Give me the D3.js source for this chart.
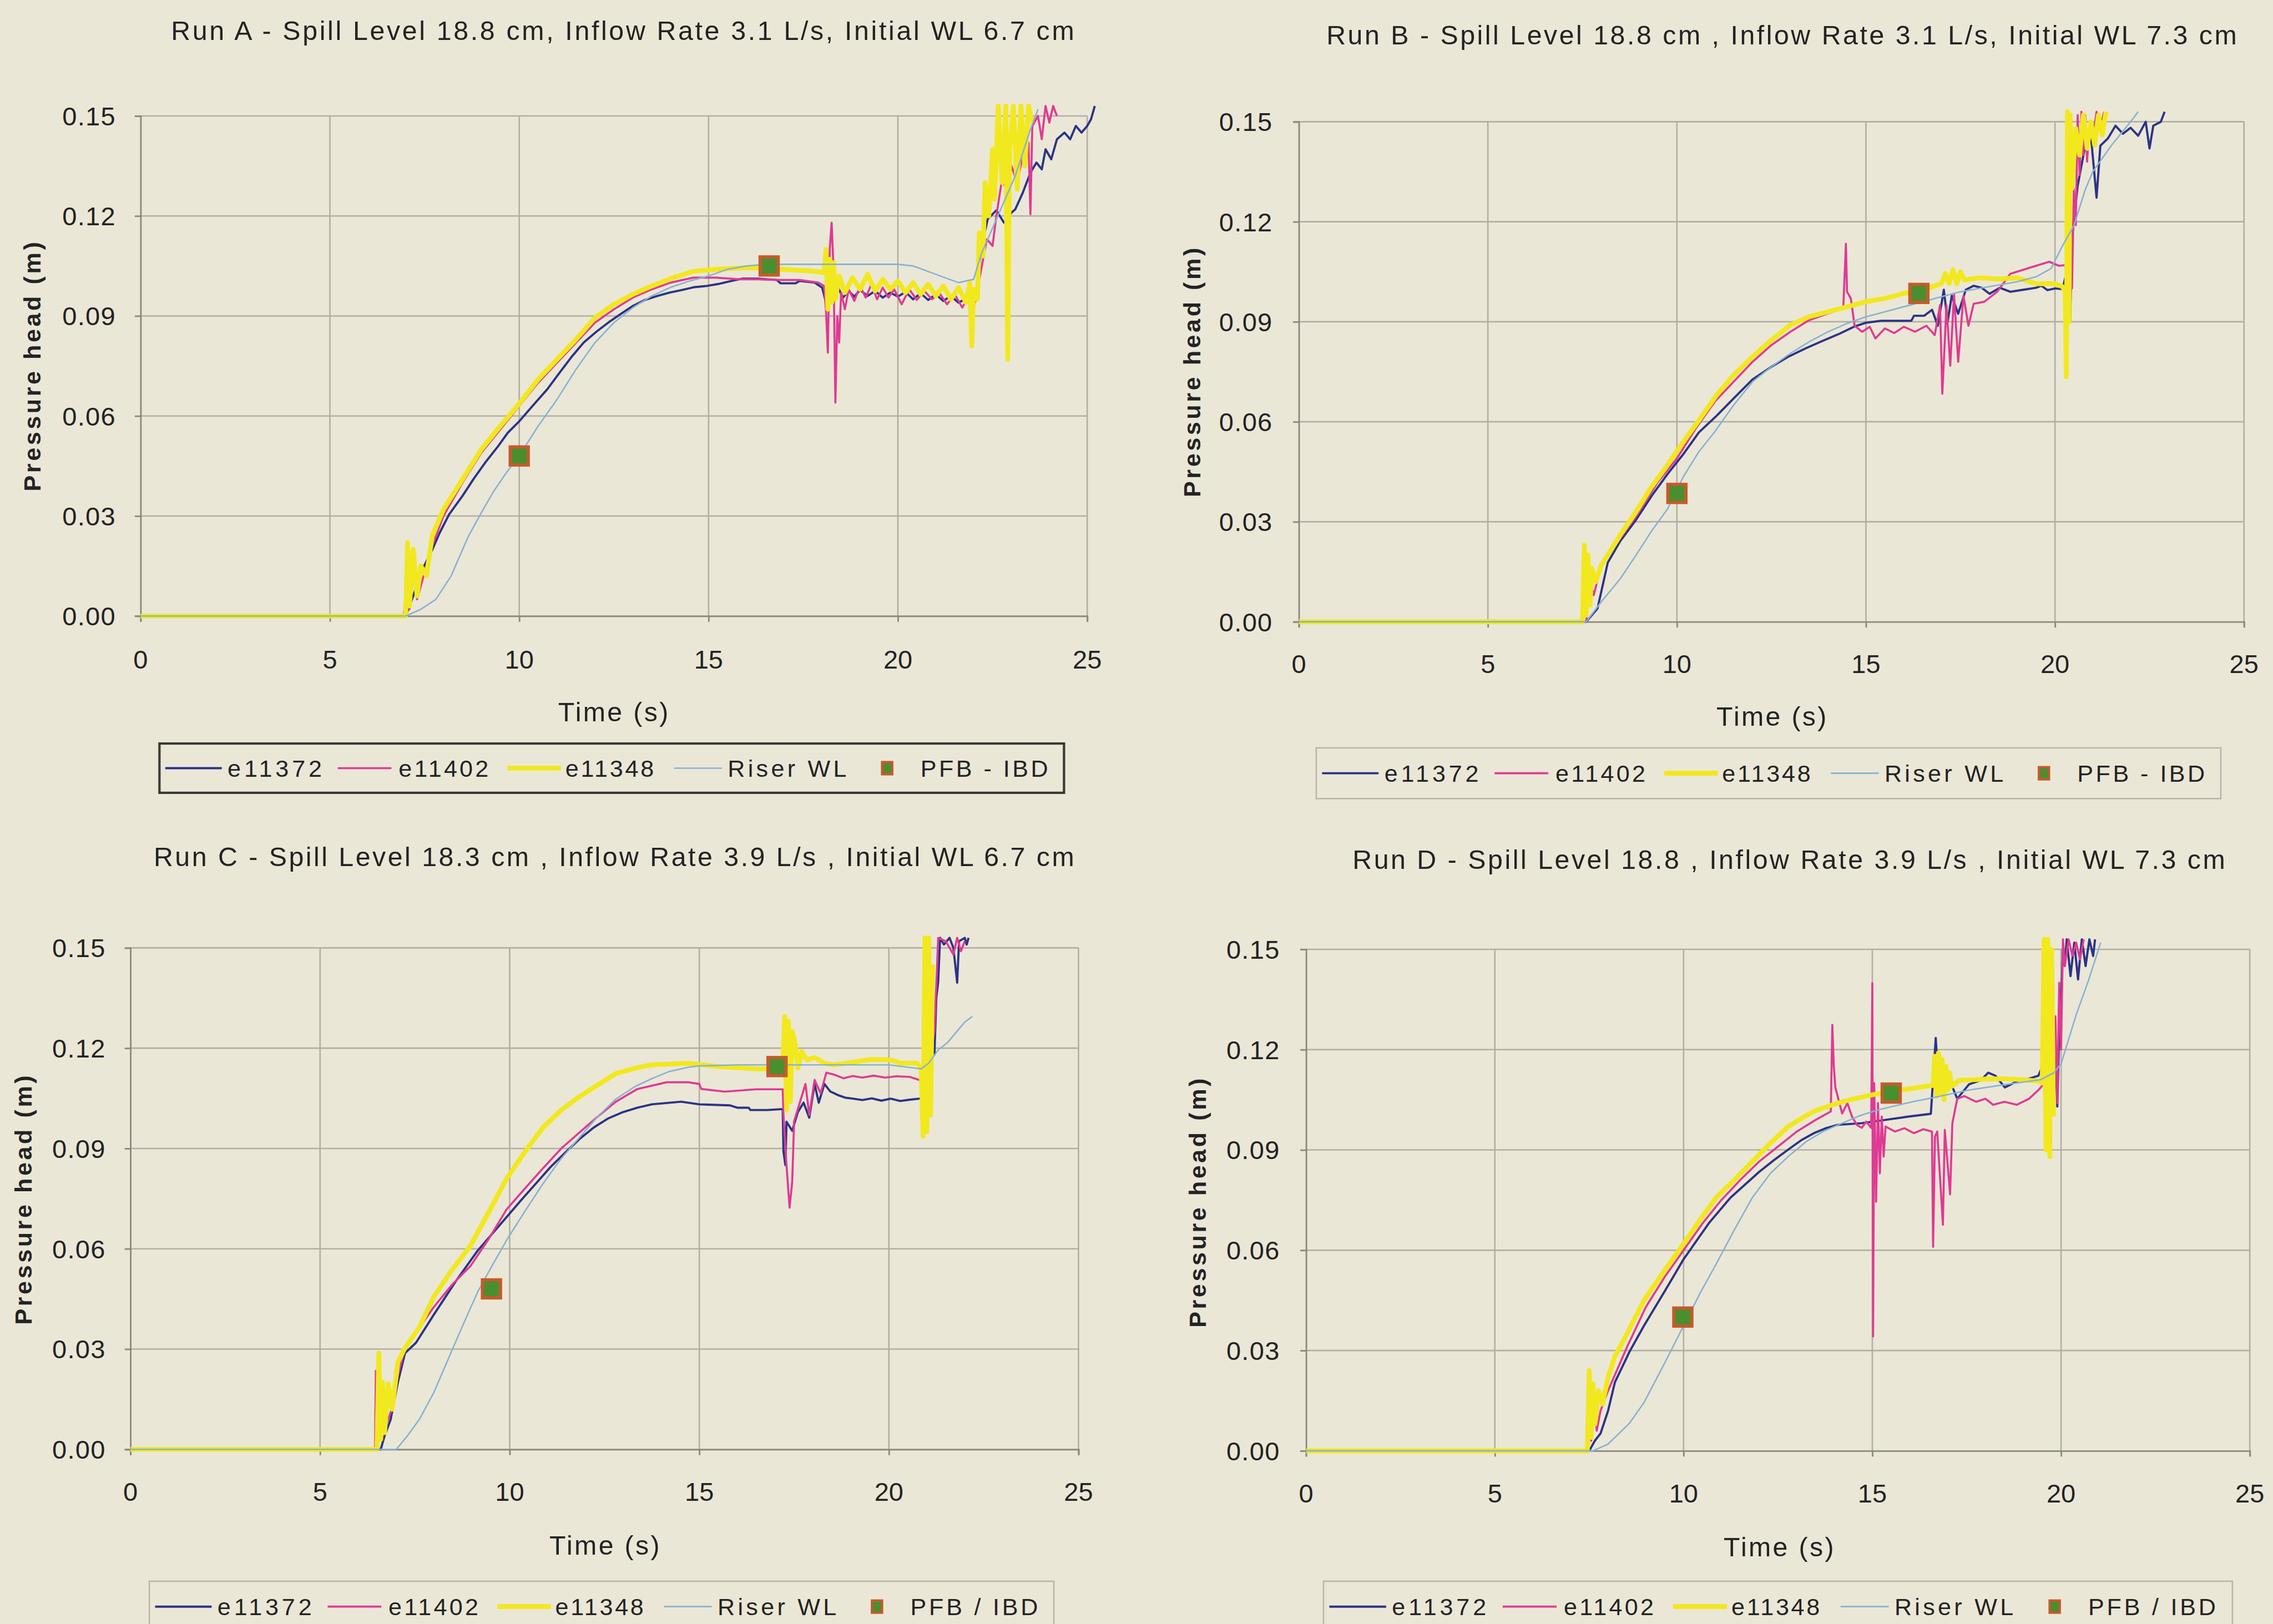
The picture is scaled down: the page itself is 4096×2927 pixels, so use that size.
<!DOCTYPE html>
<html><head><meta charset="utf-8">
<script src="https://cdn.jsdelivr.net/npm/d3@7"></script>
<style>
html,body{margin:0;padding:0;background:#ebe7d7;}
svg{display:block}
text{font-family:"Liberation Sans",Arial,sans-serif;fill:#232323}
</style></head><body>
<svg id="chart" width="4096" height="2927"></svg>
<script>
// ---------------- DATA ----------------
const xTicks = [0, 5, 10, 15, 20, 25];
const yTicks = [0, 0.03, 0.06, 0.09, 0.12, 0.15];
const seriesNames = ["e11372", "e11402", "e11348", "Riser WL"];
const titles = [
  "Run A - Spill Level 18.8 cm, Inflow Rate 3.1 L/s, Initial WL 6.7 cm",
  "Run B - Spill Level 18.8 cm , Inflow Rate 3.1 L/s, Initial WL 7.3 cm",
  "Run C - Spill Level 18.3 cm , Inflow Rate 3.9 L/s , Initial WL 6.7 cm",
  "Run D - Spill Level 18.8 , Inflow Rate 3.9 L/s , Initial WL 7.3 cm"
];
const pfbLabels = ["PFB - IBD", "PFB - IBD", "PFB / IBD", "PFB / IBD"];
const xTitle = "Time (s)";
const yTitle = "Pressure head (m)";

// Run A  [time (s), pressure head (m)]
const runA_e11372 = [[0,0],[7.0,0],[7.2,0.006],[7.4,0.013],[7.7,0.0198],[7.9,0.025],[8.15,0.0305],[8.5,0.036],[8.8,0.0412],[9.1,0.046],[9.44,0.0509],[9.7,0.055],[10.0,0.0584],[10.35,0.063],[10.74,0.068],[11.0,0.072],[11.38,0.0777],[11.7,0.082],[12.03,0.0852],[12.35,0.088],[12.67,0.0905],[13.0,0.093],[13.32,0.0948],[13.65,0.096],[13.97,0.097],[14.3,0.0978],[14.6,0.0986],[14.95,0.099],[15.26,0.0996],[15.6,0.1005],[15.9,0.1012],[16.3,0.1012],[16.8,0.1008],[16.9,0.0998],[17.3,0.0998],[17.4,0.1005],[17.8,0.1],[18.0,0.0985],[18.1,0.094],[18.2,0.1005],[18.3,0.0945],[18.4,0.099],[18.55,0.0955],[18.7,0.0975],[18.85,0.0958],[19.0,0.0978],[19.2,0.096],[19.4,0.0975],[19.6,0.0955],[19.8,0.097],[20.0,0.0958],[20.2,0.0972],[20.4,0.095],[20.6,0.0968],[20.8,0.0948],[21.0,0.0965],[21.2,0.0945],[21.4,0.096],[21.6,0.094],[21.8,0.0952],[22.0,0.093],[22.1,0.1],[22.2,0.11],[22.37,0.119],[22.6,0.1217],[22.8,0.118],[23.0,0.121],[23.1,0.122],[23.3,0.127],[23.5,0.133],[23.66,0.136],[23.8,0.134],[23.9,0.14],[24.05,0.137],[24.2,0.143],[24.4,0.145],[24.55,0.143],[24.7,0.147],[24.85,0.145],[25.0,0.147],[25.1,0.149],[25.2,0.153]];
const runA_e11402 = [[0,0],[6.95,0],[7.05,0.012],[7.1,0.002],[7.25,0.017],[7.3,0.005],[7.5,0.013],[7.7,0.021],[8.0,0.03],[8.5,0.04],[9.0,0.049],[9.5,0.056],[10.0,0.063],[10.5,0.07],[11.0,0.076],[11.5,0.082],[12.0,0.088],[12.5,0.092],[13.0,0.0955],[13.5,0.098],[14.0,0.1],[14.6,0.1015],[15.2,0.1015],[15.8,0.101],[16.3,0.101],[16.9,0.1008],[17.4,0.1008],[17.9,0.1],[18.05,0.099],[18.1,0.092],[18.15,0.079],[18.2,0.11],[18.25,0.118],[18.3,0.104],[18.35,0.064],[18.4,0.09],[18.45,0.082],[18.5,0.097],[18.6,0.092],[18.7,0.098],[18.85,0.0945],[19.0,0.099],[19.15,0.0955],[19.3,0.0995],[19.45,0.095],[19.6,0.0985],[19.75,0.0955],[19.9,0.098],[20.1,0.0935],[20.3,0.098],[20.5,0.0948],[20.7,0.0975],[20.9,0.095],[21.1,0.0968],[21.3,0.0935],[21.5,0.0965],[21.7,0.0925],[21.85,0.0955],[22.0,0.092],[22.2,0.104],[22.35,0.113],[22.5,0.111],[22.6,0.12],[22.75,0.131],[22.9,0.127],[23.0,0.135],[23.15,0.13],[23.3,0.138],[23.45,0.142],[23.5,0.1205],[23.55,0.147],[23.7,0.15],[23.8,0.143],[23.9,0.153],[24.0,0.148],[24.1,0.153],[24.2,0.15]];
const runA_e11348 = [[0,0],[7.0,0],[7.05,0.022],[7.1,0.003],[7.2,0.02],[7.3,0.006],[7.4,0.015],[7.55,0.012],[7.7,0.024],[8.0,0.032],[8.5,0.041],[9.0,0.05],[9.5,0.057],[10.0,0.0637],[10.5,0.071],[11.0,0.077],[11.5,0.083],[12.0,0.0895],[12.5,0.0935],[13.0,0.0965],[13.5,0.099],[14.0,0.1012],[14.6,0.1034],[15.2,0.104],[16.0,0.1045],[17.0,0.104],[17.8,0.1034],[18.05,0.103],[18.1,0.11],[18.15,0.092],[18.2,0.107],[18.25,0.094],[18.3,0.106],[18.35,0.095],[18.45,0.102],[18.6,0.097],[18.8,0.1015],[19.0,0.098],[19.2,0.1025],[19.4,0.0975],[19.6,0.101],[19.8,0.098],[20.0,0.1005],[20.2,0.097],[20.4,0.1],[20.6,0.0965],[20.8,0.0995],[21.0,0.096],[21.2,0.099],[21.4,0.095],[21.6,0.0985],[21.8,0.094],[21.9,0.1],[21.95,0.081],[22.0,0.098],[22.1,0.095],[22.15,0.115],[22.25,0.108],[22.3,0.13],[22.4,0.12],[22.5,0.14],[22.55,0.125],[22.65,0.153],[22.75,0.13],[22.85,0.153],[22.9,0.077],[22.95,0.14],[23.05,0.153],[23.15,0.128],[23.25,0.153],[23.35,0.135],[23.45,0.153],[23.55,0.148]];
const runA_riser = [[0,0],[7.0,0],[7.4,0.002],[7.8,0.005],[8.2,0.012],[8.66,0.024],[9.0,0.031],[9.33,0.0375],[9.66,0.043],[10.0,0.048],[10.5,0.057],[11.0,0.065],[11.5,0.074],[12.0,0.082],[12.5,0.088],[13.0,0.0925],[13.5,0.096],[14.0,0.0986],[14.5,0.1005],[15.0,0.102],[15.5,0.104],[16.0,0.105],[16.5,0.1055],[20.0,0.1055],[20.4,0.105],[21.0,0.1025],[21.6,0.1],[22.0,0.101],[22.2,0.1085],[22.6,0.119],[23.1,0.132],[23.5,0.146],[23.7,0.152]];
const runA_pfb = [[10.0,0.048],[16.6,0.105]];

// Run B
const runB_e11372 = [[0,0],[7.6,0],[7.9,0.004],[8.17,0.0177],[8.5,0.0242],[8.92,0.0306],[9.34,0.0379],[9.75,0.0443],[10.17,0.0503],[10.58,0.0568],[11.05,0.0618],[11.5,0.067],[12.0,0.0727],[12.5,0.0765],[12.96,0.0796],[13.4,0.082],[13.9,0.0845],[14.3,0.0864],[14.68,0.0885],[15.0,0.0897],[15.4,0.0903],[16.2,0.0903],[16.27,0.0918],[16.54,0.0918],[16.75,0.0936],[16.9,0.0888],[17.06,0.0996],[17.16,0.09],[17.27,0.0978],[17.44,0.0924],[17.64,0.0996],[17.85,0.1008],[18.06,0.1002],[18.27,0.0984],[18.54,0.1002],[18.82,0.099],[19.16,0.0996],[19.5,0.1002],[19.64,0.1008],[19.8,0.0995],[20.0,0.1],[20.2,0.0998],[20.35,0.1068],[20.4,0.09],[20.45,0.115],[20.6,0.1308],[20.7,0.1368],[20.8,0.1428],[20.95,0.1458],[21.1,0.1272],[21.2,0.1428],[21.4,0.145],[21.6,0.1488],[21.8,0.1464],[22.0,0.1482],[22.2,0.1458],[22.4,0.15],[22.5,0.142],[22.6,0.1488],[22.8,0.15],[22.9,0.153]];
const runB_e11402 = [[0,0],[7.6,0],[7.7,0.012],[7.8,0.008],[8.0,0.017],[8.5,0.025],[9.0,0.033],[9.5,0.042],[10.0,0.049],[10.5,0.058],[11.0,0.066],[11.5,0.072],[12.0,0.078],[12.5,0.083],[13.0,0.087],[13.5,0.0905],[14.0,0.0925],[14.4,0.094],[14.47,0.1134],[14.5,0.099],[14.6,0.097],[14.7,0.0888],[14.9,0.087],[15.1,0.0885],[15.25,0.085],[15.5,0.088],[15.75,0.0866],[16.0,0.0885],[16.3,0.087],[16.6,0.0888],[16.82,0.086],[16.96,0.095],[17.02,0.0684],[17.13,0.095],[17.23,0.0768],[17.33,0.0984],[17.44,0.078],[17.58,0.0978],[17.71,0.0888],[17.85,0.0954],[18.13,0.096],[18.47,0.099],[18.82,0.1044],[19.16,0.1056],[19.5,0.1068],[19.85,0.108],[20.1,0.1068],[20.3,0.107],[20.35,0.09],[20.4,0.126],[20.45,0.1],[20.5,0.13],[20.55,0.119],[20.6,0.152],[20.65,0.134],[20.7,0.153],[20.75,0.14],[20.8,0.152],[20.85,0.138],[20.9,0.148],[21.0,0.145],[21.1,0.153],[21.2,0.148],[21.3,0.153]];
const runB_e11348 = [[0,0],[7.5,0],[7.55,0.023],[7.6,0.002],[7.65,0.02],[7.7,0.005],[7.75,0.016],[7.85,0.012],[8.0,0.017],[8.17,0.02],[8.5,0.026],[8.92,0.033],[9.3,0.04],[9.75,0.047],[10.17,0.054],[10.58,0.0604],[11.05,0.068],[11.5,0.074],[12.0,0.0795],[12.5,0.0845],[13.0,0.089],[13.5,0.0915],[14.0,0.093],[14.5,0.0945],[15.0,0.096],[15.5,0.097],[16.0,0.0985],[16.5,0.0995],[17.0,0.1015],[17.1,0.1045],[17.2,0.1015],[17.3,0.1056],[17.4,0.1014],[17.5,0.105],[17.6,0.1025],[18.0,0.1032],[18.5,0.1028],[19.0,0.1032],[19.5,0.1014],[20.0,0.1014],[20.2,0.1005],[20.27,0.099],[20.3,0.0735],[20.33,0.153],[20.37,0.09],[20.4,0.152],[20.45,0.13],[20.55,0.148],[20.65,0.14],[20.75,0.152],[20.85,0.142],[20.95,0.15],[21.05,0.143],[21.15,0.152],[21.25,0.146],[21.35,0.153]];
const runB_riser = [[0,0],[7.6,0],[8.0,0.006],[8.5,0.0129],[8.92,0.02],[9.34,0.0274],[9.75,0.0338],[10.17,0.0435],[10.58,0.051],[11.0,0.057],[11.5,0.065],[12.0,0.072],[12.5,0.0765],[13.0,0.0805],[13.5,0.084],[14.0,0.087],[14.5,0.0895],[15.0,0.0915],[15.5,0.093],[16.0,0.0945],[16.5,0.096],[17.0,0.0975],[17.5,0.099],[18.0,0.1],[18.5,0.101],[19.0,0.102],[19.5,0.1035],[19.9,0.106],[20.2,0.1128],[20.5,0.1188],[20.8,0.1296],[21.0,0.135],[21.5,0.143],[22.0,0.15],[22.2,0.153]];
const runB_pfb = [[10.0,0.0385],[16.4,0.0985]];

// Run C
const runC_e11372 = [[0,0],[6.6,0],[6.7,0.004],[6.86,0.0089],[7.05,0.02],[7.24,0.0288],[7.53,0.0319],[8.0,0.0403],[8.58,0.0503],[9.16,0.0595],[9.92,0.0695],[10.3,0.0745],[10.69,0.0795],[11.08,0.0845],[11.46,0.0887],[11.84,0.0928],[12.22,0.0963],[12.6,0.099],[12.99,0.1009],[13.37,0.1022],[13.75,0.1032],[14.52,0.104],[15.0,0.1032],[15.8,0.1029],[16.0,0.1022],[16.3,0.1022],[16.35,0.1015],[16.8,0.1015],[17.2,0.1018],[17.22,0.0891],[17.27,0.085],[17.3,0.098],[17.45,0.0953],[17.6,0.1009],[17.75,0.1037],[17.9,0.0992],[18.04,0.1093],[18.15,0.1037],[18.3,0.1093],[18.45,0.1071],[18.65,0.106],[18.85,0.1052],[19.05,0.1049],[19.3,0.1045],[19.55,0.105],[19.8,0.1043],[20.05,0.1049],[20.3,0.1042],[20.55,0.1046],[20.8,0.1049],[21.1,0.105],[21.15,0.12],[21.2,0.118],[21.25,0.135],[21.3,0.14],[21.35,0.153],[21.45,0.151],[21.6,0.153],[21.7,0.15],[21.8,0.1396],[21.85,0.152],[22.0,0.153],[22.05,0.151],[22.1,0.153]];
const runC_e11402 = [[0,0],[6.45,0],[6.47,0.0235],[6.52,0.003],[6.7,0.006],[6.86,0.011],[7.05,0.022],[7.24,0.0304],[7.6,0.036],[8.0,0.0426],[8.5,0.0495],[8.97,0.0549],[9.45,0.063],[9.92,0.0718],[10.4,0.078],[10.88,0.0841],[11.36,0.09],[11.84,0.0948],[12.32,0.0995],[12.8,0.104],[13.37,0.1078],[14.14,0.1098],[14.71,0.1098],[15.0,0.1093],[15.05,0.1078],[15.67,0.107],[16.5,0.1077],[17.2,0.1077],[17.22,0.1],[17.3,0.085],[17.38,0.0723],[17.45,0.08],[17.5,0.0981],[17.65,0.1037],[17.8,0.1093],[17.9,0.1],[18.04,0.1105],[18.2,0.1065],[18.35,0.1127],[18.55,0.1121],[18.8,0.111],[19.05,0.1117],[19.3,0.1112],[19.6,0.1118],[19.9,0.1112],[20.2,0.1116],[20.55,0.1114],[20.8,0.1105],[21.0,0.1105],[21.2,0.125],[21.3,0.153],[21.5,0.152],[21.7,0.148],[21.8,0.153],[21.9,0.149],[22.0,0.152]];
const runC_e11348 = [[0,0],[6.5,0],[6.55,0.0288],[6.6,0.003],[6.65,0.02],[6.7,0.005],[6.8,0.0196],[6.9,0.012],[7.05,0.026],[7.24,0.0304],[7.62,0.0365],[8.0,0.0457],[8.5,0.054],[8.97,0.061],[9.45,0.071],[9.92,0.081],[10.4,0.089],[10.88,0.0963],[11.36,0.1015],[11.84,0.1055],[12.32,0.109],[12.8,0.1124],[13.3,0.114],[13.75,0.115],[14.71,0.1155],[15.5,0.1145],[16.5,0.1138],[17.2,0.1138],[17.25,0.1295],[17.3,0.1015],[17.35,0.128],[17.4,0.104],[17.45,0.125],[17.54,0.1206],[17.6,0.114],[17.7,0.119],[17.84,0.1165],[18.04,0.1172],[18.3,0.1155],[18.55,0.115],[19.05,0.1158],[19.5,0.1166],[20.05,0.1165],[20.3,0.1155],[20.75,0.1155],[20.85,0.1138],[20.9,0.0936],[20.95,0.153],[21.0,0.095],[21.05,0.153],[21.1,0.1],[21.15,0.145]];
const runC_riser = [[0,0],[7.01,0],[7.3,0.004],[7.62,0.009],[8.0,0.017],[8.39,0.0273],[8.78,0.0375],[9.16,0.0472],[9.54,0.055],[9.92,0.0626],[10.4,0.0712],[10.88,0.0795],[11.36,0.087],[11.84,0.0933],[12.32,0.0995],[12.8,0.1048],[13.3,0.1085],[13.75,0.1109],[14.2,0.113],[14.71,0.1143],[15.0,0.1147],[16.0,0.115],[20.0,0.115],[20.85,0.1138],[21.05,0.1155],[21.3,0.1195],[21.55,0.1217],[22.0,0.1278],[22.2,0.1295]];
const runC_pfb = [[9.52,0.048],[17.05,0.1145]];

// Run D
const runD_e11372 = [[0,0],[7.5,0],[7.65,0.003],[7.8,0.0052],[8.0,0.012],[8.18,0.0205],[8.57,0.0297],[8.95,0.0374],[9.52,0.0481],[10.0,0.0573],[10.67,0.0681],[11.24,0.0757],[12.0,0.0834],[12.4,0.087],[12.82,0.0905],[13.13,0.093],[13.45,0.095],[13.77,0.0965],[14.08,0.0975],[14.72,0.098],[15.35,0.099],[15.98,0.1],[16.55,0.1008],[16.68,0.1235],[16.72,0.1157],[16.78,0.1191],[16.83,0.1087],[16.9,0.1105],[17.06,0.1105],[17.25,0.1053],[17.37,0.107],[17.56,0.1096],[17.88,0.1109],[18.07,0.1131],[18.26,0.1122],[18.51,0.1087],[18.83,0.1105],[19.15,0.1113],[19.4,0.1122],[19.53,0.1157],[19.75,0.113],[19.8,0.1009],[19.85,0.118],[19.9,0.103],[19.95,0.125],[20.0,0.135],[20.05,0.15],[20.1,0.145],[20.15,0.153],[20.25,0.142],[20.35,0.152],[20.45,0.141],[20.55,0.153],[20.65,0.145],[20.75,0.153],[20.85,0.148],[20.9,0.153]];
const runD_e11402 = [[0,0],[7.45,0],[7.5,0.02],[7.55,0.003],[7.62,0.015],[7.7,0.006],[7.8,0.012],[8.0,0.018],[8.5,0.031],[9.0,0.043],[9.5,0.052],[10.0,0.06],[10.5,0.068],[11.0,0.075],[11.5,0.081],[12.0,0.0865],[12.5,0.091],[13.0,0.0955],[13.5,0.099],[13.9,0.1015],[13.94,0.1274],[13.98,0.115],[14.02,0.1087],[14.08,0.1061],[14.2,0.1009],[14.34,0.104],[14.46,0.1],[14.59,0.0975],[14.72,0.0966],[14.84,0.0985],[14.97,0.0966],[15.0,0.1399],[15.02,0.0342],[15.05,0.11],[15.1,0.0745],[15.15,0.104],[15.2,0.083],[15.25,0.1],[15.3,0.088],[15.35,0.097],[15.6,0.0955],[15.85,0.0965],[16.1,0.095],[16.35,0.0962],[16.58,0.0955],[16.61,0.061],[16.66,0.094],[16.72,0.0955],[16.87,0.0676],[16.92,0.096],[17.06,0.0767],[17.12,0.098],[17.25,0.1053],[17.44,0.1061],[17.75,0.1044],[18.0,0.1053],[18.2,0.1035],[18.5,0.1044],[18.83,0.1035],[19.15,0.1053],[19.4,0.1079],[19.6,0.1105],[19.8,0.112],[19.85,0.13],[19.9,0.104],[19.95,0.14],[20.0,0.12],[20.05,0.153],[20.1,0.145],[20.2,0.153],[20.3,0.148],[20.4,0.152],[20.5,0.147],[20.6,0.153]];
const runD_e11348 = [[0,0],[7.45,0],[7.5,0.024],[7.55,0.004],[7.6,0.02],[7.65,0.008],[7.75,0.018],[7.85,0.014],[8.0,0.022],[8.18,0.0282],[8.5,0.035],[8.95,0.045],[9.5,0.054],[10.0,0.0619],[10.43,0.069],[10.86,0.0757],[11.34,0.081],[11.82,0.0865],[12.3,0.092],[12.77,0.097],[13.13,0.0995],[13.45,0.1015],[13.94,0.1035],[14.4,0.105],[15.0,0.1065],[15.5,0.1075],[16.0,0.1083],[16.61,0.1093],[16.65,0.118],[16.7,0.106],[16.75,0.119],[16.8,0.107],[16.85,0.117],[16.9,0.105],[16.95,0.115],[17.0,0.108],[17.05,0.113],[17.1,0.109],[17.3,0.1108],[17.7,0.111],[18.0,0.1112],[18.5,0.1113],[19.0,0.111],[19.45,0.1105],[19.5,0.11],[19.55,0.153],[19.6,0.09],[19.65,0.153],[19.7,0.088],[19.75,0.15],[19.8,0.1]];
const runD_riser = [[0,0],[7.6,0],[8.0,0.002],[8.57,0.0083],[8.95,0.0144],[9.52,0.0267],[10.0,0.0374],[10.43,0.047],[10.86,0.0558],[11.34,0.066],[11.82,0.0757],[12.3,0.083],[12.77,0.088],[13.25,0.0925],[13.73,0.0957],[14.2,0.098],[14.68,0.1003],[15.16,0.102],[15.64,0.1033],[16.1,0.1045],[16.6,0.1056],[17.55,0.1079],[18.5,0.1095],[19.46,0.111],[19.8,0.113],[20.0,0.1157],[20.4,0.1304],[20.73,0.1408],[21.05,0.152]];
const runD_pfb = [[9.98,0.04],[15.5,0.107]];

// ---------------- LAYOUT (reference units, scaled by K) ----------------
const K = 4096 / 1568;
const panels = [
  {title: titles[0], pfb: pfbLabels[0], lines: [runA_e11372, runA_e11402, runA_e11348, runA_riser], pts: runA_pfb,
   plot: [97, 80, 750, 425], tx: 429.5, ty: 21, tw: 623, yl: [22, 253], xl: [423, 491], xtY: 455, ytR: 80, leg: [110, 513, 734, 547], legDark: true},
  {title: titles[1], pfb: pfbLabels[1], lines: [runB_e11372, runB_e11402, runB_e11348, runB_riser], pts: runB_pfb,
   plot: [896, 84, 1548, 429], tx: 1229, ty: 24, tw: 628, yl: [822, 257], xl: [1222, 494], xtY: 458, ytR: 878, leg: [908, 516, 1532, 551], legDark: false},
  {title: titles[2], pfb: pfbLabels[2], lines: [runC_e11372, runC_e11402, runC_e11348, runC_riser], pts: runC_pfb,
   plot: [90, 654, 744, 1000], tx: 423.5, ty: 591, tw: 635, yl: [16, 828], xl: [417, 1066], xtY: 1029, ytR: 73, leg: [103, 1091, 727, 1126], legDark: false},
  {title: titles[3], pfb: pfbLabels[3], lines: [runD_e11372, runD_e11402, runD_e11348, runD_riser], pts: runD_pfb,
   plot: [901, 655, 1552, 1001], tx: 1234, ty: 593, tw: 602, yl: [826, 830], xl: [1227, 1067], xtY: 1030, ytR: 883, leg: [913, 1091, 1540, 1126], legDark: false}
];
const lineStyles = [
  {color: "#2b3386", w: 1.5},
  {color: "#df3a93", w: 1.4},
  {color: "#f2e81e", w: 3.3},
  {color: "#86b2d0", w: 1.0}
];
const drawOrder = [0, 1, 2, 3];
const markerFill = "#4a8f2f", markerStroke = "#c65a2c";
const gridColor = "#b2afa3";

const svg = d3.select("#chart");
svg.append("rect").attr("width", 4096).attr("height", 2927).attr("fill", "#ebe7d7");

panels.forEach(p => {
  const g = svg.append("g");
  const [L, T, R, B] = p.plot.map(v => v * K);
  const x = d3.scaleLinear().domain([0, 25]).range([L, R]);
  const y = d3.scaleLinear().domain([0, 0.15]).range([B, T]);

  // gridlines
  g.selectAll("line.hg").data(yTicks.filter(d => d > 0)).join("line")
    .attr("x1", L).attr("x2", R).attr("y1", d => y(d)).attr("y2", d => y(d))
    .attr("stroke", gridColor).attr("stroke-width", 1.0 * K);
  g.selectAll("line.vg").data(xTicks.filter(d => d > 0)).join("line")
    .attr("x1", d => x(d)).attr("x2", d => x(d)).attr("y1", T).attr("y2", B)
    .attr("stroke", gridColor).attr("stroke-width", 1.0 * K);

  // axes
  const tickLen = 4 * K;
  const ya = g.append("g").attr("transform", `translate(${L},0)`)
    .call(d3.axisLeft(y).tickValues(yTicks).tickSize(tickLen).tickFormat(""));
  const xa = g.append("g").attr("transform", `translate(0,${B})`)
    .call(d3.axisBottom(x).tickValues(xTicks).tickSize(tickLen).tickFormat(""));
  [ya, xa].forEach(a => {
    a.selectAll("path,line").attr("stroke", "#8c897e").attr("stroke-width", 1.1 * K);
  });

  // tick labels
  g.selectAll("text.yt").data(yTicks).join("text")
    .attr("x", p.ytR * K).attr("y", d => y(d)).attr("dy", "0.36em")
    .attr("text-anchor", "end").attr("font-size", 18 * K)
    .attr("letter-spacing", 0.5 * K)
    .text(d => d3.format(".2f")(d));
  g.selectAll("text.xt").data(xTicks).join("text")
    .attr("x", d => x(d)).attr("y", p.xtY * K).attr("dy", "0.36em")
    .attr("text-anchor", "middle").attr("font-size", 18 * K)
    .text(d => d);

  // titles
  g.append("text").attr("x", p.tx * K).attr("y", p.ty * K).attr("dy", "0.36em")
    .attr("text-anchor", "middle").attr("font-size", 18.5 * K)
    .attr("textLength", p.tw * K).attr("lengthAdjust", "spacing").text(p.title);
  g.append("text").attr("x", p.xl[0] * K).attr("y", p.xl[1] * K).attr("dy", "0.36em")
    .attr("text-anchor", "middle").attr("font-size", 18.5 * K)
    .attr("textLength", 76 * K).attr("lengthAdjust", "spacing").text(xTitle);
  g.append("text")
    .attr("transform", `translate(${p.yl[0] * K},${p.yl[1] * K}) rotate(-90)`)
    .attr("dy", "0.36em").attr("text-anchor", "middle").attr("font-size", 16.5 * K)
    .attr("font-weight", "bold")
    .attr("textLength", 172 * K).attr("lengthAdjust", "spacing").text(yTitle);

  // series lines
  const line = d3.line().x(d => x(d[0])).y(d => y(d[1]));
  drawOrder.forEach(i => {
    g.append("path").datum(p.lines[i]).attr("d", line)
      .attr("fill", "none").attr("stroke", lineStyles[i].color)
      .attr("stroke-width", lineStyles[i].w * K)
      .attr("stroke-linejoin", "round").attr("stroke-linecap", "butt");
  });

  // PFB markers
  const ms = 12.5 * K;
  g.selectAll("rect.pfb").data(p.pts).join("rect")
    .attr("x", d => x(d[0]) - ms / 2).attr("y", d => y(d[1]) - ms / 2)
    .attr("width", ms).attr("height", ms)
    .attr("fill", markerFill).attr("stroke", markerStroke).attr("stroke-width", 2.2 * K);

  // legend
  const [lx0, ly0, lx1, ly1] = p.leg.map(v => v * K);
  g.append("rect").attr("x", lx0).attr("y", ly0).attr("width", lx1 - lx0).attr("height", ly1 - ly0)
    .attr("fill", "none").attr("stroke", p.legDark ? "#3a3832" : "#b9b6aa")
    .attr("stroke-width", (p.legDark ? 1.6 : 1.0) * K);
  const cy = (ly0 + ly1) / 2;
  const sc = (lx1 - lx0) / (624 * K);
  const items = [
    {l0: 4, l1: 43, t: 47, tw: 65},
    {l0: 123, l1: 160, t: 165, tw: 62},
    {l0: 240, l1: 277, t: 280, tw: 61},
    {l0: 355, l1: 388, t: 392, tw: 82}
  ];
  items.forEach((it, i) => {
    g.append("line").attr("x1", lx0 + it.l0 * K * sc).attr("x2", lx0 + it.l1 * K * sc)
      .attr("y1", cy).attr("y2", cy).attr("stroke", lineStyles[i].color)
      .attr("stroke-width", lineStyles[i].w * K);
    g.append("text").attr("x", lx0 + it.t * K * sc).attr("y", cy).attr("dy", "0.36em")
      .attr("font-size", 16.5 * K).attr("textLength", it.tw * K)
      .attr("lengthAdjust", "spacing").text(seriesNames[i]);
  });
  const mk = 7 * K;
  g.append("rect").attr("x", lx0 + 502 * K * sc - mk / 2).attr("y", cy - mk * 0.6)
    .attr("width", mk).attr("height", mk * 1.2)
    .attr("fill", markerFill).attr("stroke", markerStroke).attr("stroke-width", 1.6 * K);
  g.append("text").attr("x", lx0 + 525 * K * sc).attr("y", cy).attr("dy", "0.36em")
    .attr("font-size", 16.5 * K).attr("textLength", 88 * K)
    .attr("lengthAdjust", "spacing").text(p.pfb);
});
</script>
</body></html>
